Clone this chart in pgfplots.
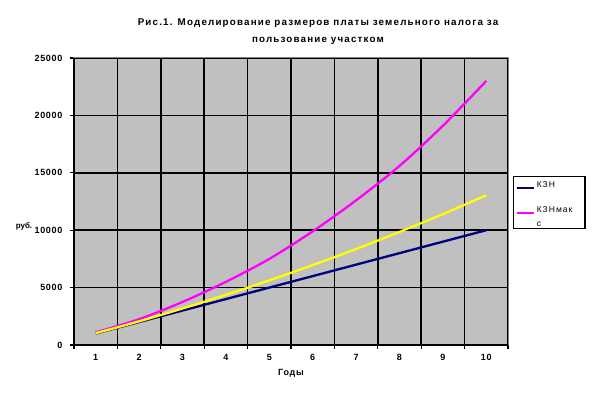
\documentclass[border=0pt]{standalone}
\usepackage{fontspec}
\setmainfont{Liberation Sans}
\usepackage{pgfplots}
\pgfplotsset{compat=1.18}
\definecolor{plotgrey}{HTML}{C0C0C0}
\definecolor{kzn}{HTML}{000080}
\definecolor{kznmax}{HTML}{FF00FF}
\definecolor{kzny}{HTML}{FFFF00}
\begin{document}
\begin{tikzpicture}[x=1pt,y=1pt]
\useasboundingbox[fill=white] (0pt,0pt) rectangle (598pt,404pt);
\node[font=\fontsize{9.8}{17}\selectfont\bfseries\addfontfeature{LetterSpace=12}, align=center] at (318pt,372pt)
  {Рис.1. Моделирование размеров платы земельного налога за\\пользование участком};
\node[font=\fontsize{8}{9}\selectfont\bfseries] at (24pt,178pt) {руб.};
\begin{axis}[
  at={(74pt,59pt)}, anchor=south west,
  scale only axis, width=434pt, height=287pt,
  xmin=0.5, xmax=10.5, ymin=0, ymax=25000,
  axis background/.style={fill=plotgrey},
  axis line style={draw=gray, line width=1pt},
  xtick={0.5,1.5,...,10.5}, xticklabels={},
  extra x ticks={1,...,10},
  extra x tick labels={1,2,3,4,5,6,7,8,9,10},
  extra x tick style={grid=none, major tick length=0pt},
  ytick={0,5000,...,25000},
  scaled y ticks=false,
  grid=major,
  major grid style={draw=black, line width=1.6pt},
  tick align=outside, major tick length=4pt,
  tick style={draw=black, line width=1.2pt},
  xtick pos=bottom, ytick pos=left,
  /pgf/number format/assume math mode=true,
  /pgf/number format/set thousands separator={},
  tick label style={font=\fontsize{9}{10}\selectfont\bfseries\addfontfeature{LetterSpace=8}},
  xticklabel style={yshift=-6pt},
  yticklabel style={xshift=-4pt},
  xlabel={Годы}, xlabel style={font=\fontsize{9}{10}\selectfont\bfseries\addfontfeature{LetterSpace=8}, yshift=2pt},
  legend cell align=left,
  legend style={at={(1.0115,0.589)}, anchor=north west, draw=black, line width=1.5pt,
    font=\fontsize{8.5}{13}\selectfont\addfontfeature{LetterSpace=12}, row sep=1pt,
    inner xsep=2pt, inner ysep=3pt, cells={anchor=base west},
    nodes={text width=44pt, text depth=11pt}},
  legend image post style={line width=2pt},
  clip=false,
]
\addplot[kzn, line width=2.3pt] coordinates {
 (1,1000) (2,2000) (3,3000) (4,4000) (5,5000) (6,6000) (7,7000) (8,8000) (9,9000) (10,10000)};
\addlegendentry{КЗН}
\addplot[kznmax, line width=2.3pt, smooth] coordinates {
 (1,1100) (2,2250) (3,3750) (4,5500) (5,7500) (6,9900) (7,12600) (8,15600) (9,19100) (10,23000)};
\addlegendentry{\begin{tabular}[t]{@{}l@{}}КЗНмак\\[1pt]с\end{tabular}}
\addplot[kzny, line width=2.3pt, smooth, forget plot] coordinates {
 (1,1030) (2,2060) (3,3180) (4,4370) (5,5630) (6,6960) (7,8360) (8,9850) (9,11400) (10,13050)};
\draw[black, line width=1.8pt] (rel axis cs:0,1) -- (rel axis cs:0,0) -- (rel axis cs:1,0);
\end{axis}
\end{tikzpicture}
\end{document}
